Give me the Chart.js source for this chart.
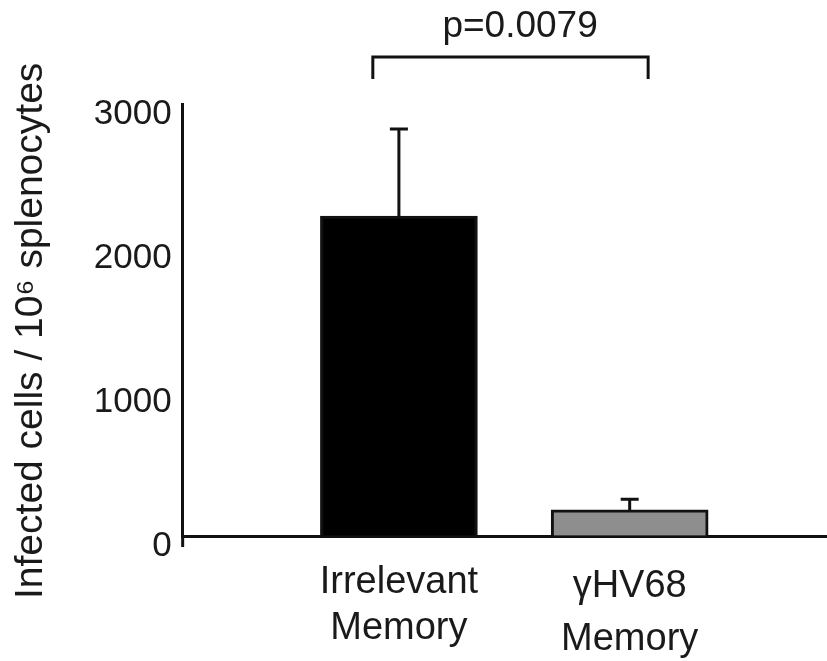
<!DOCTYPE html>
<html>
<head>
<meta charset="utf-8">
<script src="https://cdn.jsdelivr.net/npm/chart.js@4/dist/chart.umd.min.js"></script>
<style>
html,body{margin:0;padding:0;background:#ffffff;}
#wrap{width:827px;height:661px;}
</style>
</head>
<body>
<div id="wrap"><canvas id="c" width="827" height="661"></canvas></div>
<script>
// ---- data ----
const categoryLabels = [['Irrelevant', 'Memory'], ['\u03B3HV68', 'Memory']];
const categoryPositions = [1, 2];
const meanValues = [2222, 181];
const errorTopValues = [2826, 256];
const yTickValues = [0, 1000, 2000, 3000];
const yAxisTitle = 'Infected cells / 10\u2076 splenocytes  ';
const pValueText = 'p=0.0079';
const barFills = ['#000000', '#8e8e8e'];
// bracket: x span (in category units) and heights (in value units)
const bracketX = [0.887, 2.08];
const bracketY = [3326, 3174];
const pTextAt = [1.525, 3465];

const FONT = '"Liberation Sans", Arial, Helvetica, sans-serif';
const INK = '#1a1a1a';

const annotations = {
  id: 'annotations',
  afterDatasetsDraw(chart) {
    const {ctx, scales: {x, y}, chartArea} = chart;
    ctx.save();
    ctx.strokeStyle = '#111111';
    ctx.lineWidth = 3;
    ctx.lineCap = 'butt';
    // error bars
    meanValues.forEach((m, i) => {
      const px = x.getPixelForValue(categoryPositions[i]);
      const yTop = y.getPixelForValue(errorTopValues[i]);
      const yBar = y.getPixelForValue(m);
      ctx.beginPath();
      ctx.moveTo(px, yBar);
      ctx.lineTo(px, yTop);
      ctx.moveTo(px - 9, yTop);
      ctx.lineTo(px + 9, yTop);
      ctx.stroke();
    });
    // y-axis little extension below the baseline
    ctx.beginPath();
    ctx.moveTo(chartArea.left, chartArea.bottom);
    ctx.lineTo(chartArea.left, chartArea.bottom + 11);
    ctx.stroke();
    // significance bracket
    const xl = x.getPixelForValue(bracketX[0]);
    const xr = x.getPixelForValue(bracketX[1]);
    const yt = y.getPixelForValue(bracketY[0]);
    const yb = y.getPixelForValue(bracketY[1]);
    ctx.beginPath();
    ctx.moveTo(xl, yb);
    ctx.lineTo(xl, yt);
    ctx.lineTo(xr, yt);
    ctx.lineTo(xr, yb);
    ctx.stroke();
    ctx.fillStyle = INK;
    ctx.font = '37px ' + FONT;
    ctx.textAlign = 'center';
    ctx.textBaseline = 'alphabetic';
    ctx.fillText(pValueText, x.getPixelForValue(pTextAt[0]), y.getPixelForValue(pTextAt[1]));
    ctx.restore();
  }
};

new Chart(document.getElementById('c'), {
  type: 'bar',
  data: {
    datasets: [{
      data: meanValues.map((v, i) => ({x: categoryPositions[i], y: v})),
      backgroundColor: barFills,
      borderColor: '#111111',
      borderWidth: 3,
      borderSkipped: 'bottom',
      barThickness: 157
    }]
  },
  options: {
    responsive: false,
    animation: false,
    devicePixelRatio: 1,
    layout: {padding: {left: 8, right: 0, top: 104, bottom: 0}},
    plugins: {legend: {display: false}, tooltip: {enabled: false}},
    scales: {
      x: {
        type: 'linear',
        offset: false,
        min: 0.063,
        max: 2.855,
        afterBuildTicks: (s) => { s.ticks = categoryPositions.map(v => ({value: v})); },
        afterFit: (s) => { s.height = 125; },
        ticks: {
          color: INK,
          padding: 24,
          maxRotation: 0,
          autoSkip: false,
          font: (ctx) => ({family: FONT, size: 38, lineHeight: ctx.index === 1 ? 1.4 : 1.2}),
          callback: (v) => categoryLabels[categoryPositions.indexOf(v)] || ''
        },
        grid: {display: true, offset: false, drawOnChartArea: false, drawTicks: false},
        border: {display: true, color: '#111111', width: 3}
      },
      y: {
        min: 0,
        max: 3000,
        afterBuildTicks: (s) => { s.ticks = yTickValues.map(v => ({value: v})); },
        ticks: {
          color: INK,
          padding: 11,
          font: {family: FONT, size: 35, lineHeight: '21px'},
          callback: (v) => ['', String(v)]
        },
        grid: {display: true, drawOnChartArea: false, drawTicks: false},
        border: {display: true, color: '#111111', width: 3},
        title: {
          display: true,
          text: yAxisTitle,
          color: INK,
          font: {family: FONT, size: 39},
          padding: {top: 0, bottom: 28}
        }
      }
    }
  },
  plugins: [annotations]
});
</script>
</body>
</html>
